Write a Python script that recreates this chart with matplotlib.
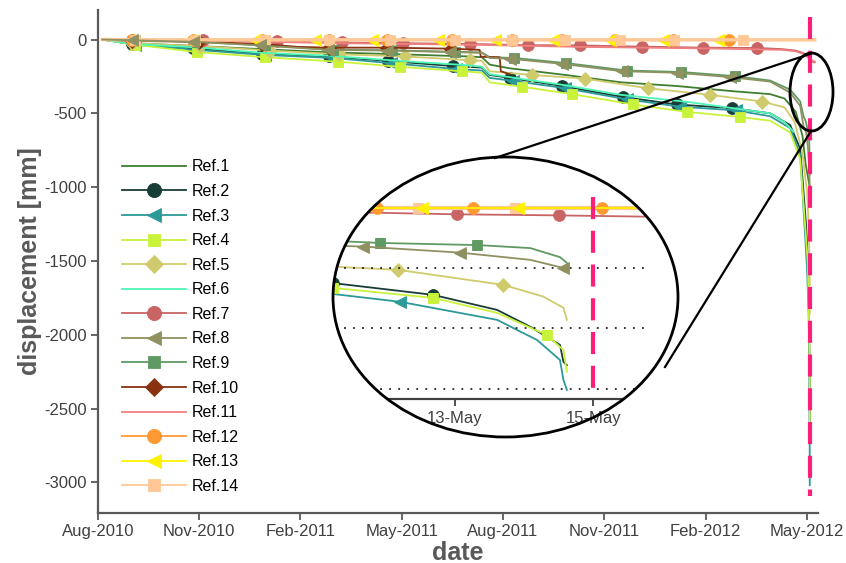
import datetime as dt
import matplotlib
matplotlib.use("Agg")
import matplotlib.pyplot as plt
import matplotlib.dates as mdates
from matplotlib.patches import Ellipse
from matplotlib.lines import Line2D
import numpy as np

plt.rcParams['font.family'] = ['Liberation Sans', 'DejaVu Sans']
plt.rcParams['axes.unicode_minus'] = False

W, H = 846, 563
start = dt.datetime(2010, 8, 14)        # day 0 of the main records
inset_start = dt.datetime(2012, 5, 11)  # day 0 of the zoomed records
alarm_day = 640                         # 15-May-2012
inset_alarm = 4

labels = ["Ref.%d" % i for i in range(1, 15)]
colors = ["#3f7f2f", "#183c37", "#2b9a98", "#c9f23a", "#cfcb6c", "#4ef7b4",
          "#c96464", "#8f9160", "#5e9a62", "#8a3210", "#f08080", "#ff9a33",
          "#fff200", "#ffc896"]
markers = [None, "o", "<", "s", "D", None, "o", "<", "s", "D", None, "o", "<", "s"]

# main records: days since start, displacement [mm], marker indices
ref1_d = [4, 30, 91, 147, 208, 271, 334, 345, 352, 370, 420, 470, 520, 570, 604, 617, 627, 633, 636, 639.6]
ref1_v = [0, -25, -45, -65, -87, -100, -115, -120, -170, -195, -240, -290, -315, -350, -370, -400, -490, -650, -850, -1000]
ref1_m = []

ref2_d = [4, 30.5, 85, 147, 208, 260.5, 319, 345, 352, 370, 417, 472, 520, 570, 604, 622, 631, 636, 637.7, 638.6, 639.1, 639.5, 639.55, 639.6]
ref2_v = [0, -30, -60, -95, -115, -145, -180, -190, -240, -260, -315, -390, -440, -465, -500, -580, -740, -1230, -1445, -1695, -1975, -2275, -2555, -2610]
ref2_m = [1, 2, 3, 4, 5, 6, 9, 10, 11, 12, 13]

ref3_d = [4, 33, 88, 150, 211, 263, 322, 345, 352, 373, 420, 475, 523, 573, 604, 622, 631, 636, 637.2, 638.6, 639.2, 639.5, 639.57, 639.6]
ref3_v = [0, -35, -70, -105, -125, -160, -200, -210, -260, -280, -330, -405, -455, -480, -520, -600, -780, -1400, -1560, -1860, -2195, -2525, -2855, -3020]
ref3_m = [1, 2, 3, 4, 5, 6, 9, 10, 11, 12, 13]

ref4_d = [4, 33, 89, 150, 216, 271, 327, 345, 352, 381, 426, 481, 529, 577, 604, 622, 631, 636, 637.7, 638.6, 639.3, 639.55, 639.6]
ref4_v = [0, -35, -85, -120, -150, -185, -215, -225, -290, -320, -370, -440, -490, -525, -550, -630, -810, -1315, -1495, -1745, -2110, -2360, -2720]
ref4_m = [1, 2, 3, 4, 5, 6, 9, 10, 11, 12, 13]

ref5_d = [4, 30.5, 91.6, 154.5, 217, 276, 334, 345, 352, 390, 437.6, 494, 550, 596.6, 617, 626, 633, 636, 637.2, 638.7, 639.3, 639.55, 639.6]
ref5_v = [0, -25, -45, -75, -100, -115, -140, -145, -215, -240, -265, -330, -375, -420, -460, -560, -765, -965, -1030, -1280, -1475, -1660, -1860]
ref5_m = [1, 2, 3, 4, 5, 6, 9, 10, 11, 12, 13]

ref6_d = [4, 30, 91, 147, 208, 271, 334, 345, 352, 370, 420, 470, 520, 532, 604, 617, 625]
ref6_v = [0, -30, -55, -90, -110, -145, -175, -185, -235, -255, -310, -375, -415, -425, -500, -560, -625]
ref6_m = []

ref7_d = [4, 30.5, 94, 161, 219, 274, 334, 386, 433, 489, 544, 592, 615, 627, 633, 636, 638, 640, 642, 644]
ref7_v = [0, -3, -5, -10, -20, -25, -30, -38, -40, -48, -55, -57, -65, -75, -90, -100, -120, -140, -150, -155]
ref7_m = [1, 2, 3, 4, 5, 6, 7, 8, 9, 10, 11]

ref8_d = [4, 30.5, 85, 145.5, 206.6, 260, 316.6, 345, 352, 370, 417, 471, 520, 568, 604, 622, 631, 634, 636, 636.7, 638.1, 639.1, 639.55, 639.6]
ref8_v = [0, -5, -15, -40, -70, -75, -85, -90, -125, -130, -165, -215, -225, -255, -285, -360, -450, -590, -620, -645, -745, -865, -1000, -1035]
ref8_m = [1, 2, 3, 4, 5, 6, 9, 10, 11, 12, 13]

ref9_d = [4, 33, 89, 150, 211, 264, 321, 345, 352, 374, 421, 475, 524, 572, 604, 622, 631, 634, 636, 636.9, 638.3, 639.1, 639.5, 639.6]
ref9_v = [0, -5, -15, -40, -68, -73, -83, -88, -120, -125, -160, -210, -220, -248, -278, -340, -420, -520, -555, -585, -620, -670, -820, -915]
ref9_m = [1, 2, 3, 4, 5, 6, 9, 10, 11, 12, 13]

ref10_d = [4, 30.5, 91, 147, 180, 208, 260, 317, 343, 344, 361, 362, 370]
ref10_v = [0, -10, -15, -30, -50, -55, -55, -62, -70, -117, -120, -215, -235]
ref10_m = [1, 2, 3, 5, 6, 7]

ref11_d = [4, 94, 219, 334, 433, 544, 615, 627, 633, 636, 640, 644]
ref11_v = [0, -8, -25, -35, -50, -60, -70, -80, -95, -105, -135, -150]
ref11_m = []

ref12_d = [4, 30.5, 85, 147, 208, 259.6, 318, 372, 417, 465, 517, 567, 644]
ref12_v = [0, -4, -4, -4, -4, -4, -4, -4, -4, -4, -4, -4, -4]
ref12_m = [1, 2, 3, 4, 5, 6, 7, 8, 9, 10, 11]

ref13_d = [4, 30.5, 82.6, 141, 195, 246, 305.5, 356.7, 409, 460, 507.6, 557, 644]
ref13_v = [0, 0, 0, 0, 0, 0, 0, 0, 0, 0, 0, 0, 0]
ref13_m = [1, 2, 3, 4, 5, 6, 7, 8, 9, 10, 11]

ref14_d = [4, 33, 87, 150, 208, 262, 321, 372, 419.6, 469, 518, 579.5, 644]
ref14_v = [0, -2, -2, -2, -2, -2, -2, -2, -2, -2, -2, -2, -2]
ref14_m = [1, 2, 3, 4, 5, 6, 7, 8, 9, 10, 11]

# zoomed records: days since inset_start, displacement [mm], marker indices
in2_d = [0, 0.23, 1.68, 2.61, 3.09, 3.52, 3.57, 3.62]
in2_v = [-1230, -1250, -1445, -1695, -1975, -2275, -2555, -2610]
in2_m = [1, 2]
in3_d = [0, 1.2, 2.61, 3.19, 3.52, 3.57, 3.62]
in3_v = [-1400, -1560, -1860, -2195, -2525, -2855, -3020]
in3_m = [1]
in4_d = [0, 0.23, 1.68, 2.61, 3.33, 3.57, 3.62]
in4_v = [-1315, -1330, -1495, -1745, -2110, -2360, -2720]
in4_m = [1, 2, 4]
in5_d = [0, 1.17, 2.70, 3.28, 3.57, 3.62]
in5_v = [-965, -1030, -1280, -1475, -1660, -1860]
in5_m = [1, 2]
in7_d = [0, 2.03, 3.51, 5.3]
in7_v = [-65, -110, -128, -158]
in7_m = [1, 2]
in8_d = [0, 0.67, 2.07, 3.09, 3.57, 3.62]
in8_v = [-620, -645, -745, -865, -1000, -1035]
in8_m = [1, 2, 4]
in9_d = [0, 0.33, 0.91, 2.32, 3.09, 3.52, 3.62]
in9_v = [-545, -555, -585, -620, -670, -820, -915]
in9_m = [2, 3]
in12_d = [0, 0.87, 2.26, 4.13, 5.3]
in12_v = [-10, -10, -10, -10, -10]
in12_m = [1, 2, 3]
in13_d = [0, 1.52, 2.91, 5.3]
in13_v = [0, 0, 0, 0]
in13_m = [1, 2]
in14_d = [0, 1.46, 2.87, 5.3]
in14_v = [0, 0, 0, 0]
in14_m = [1, 2]
inset_levels = [-1000, -2000, -3000]


def fx(x):
    return x / W


def fy(y):
    return 1 - y / H


def draw(ax, base, days, vals, i, mk, lw=1.3):
    x = mdates.date2num(base) + np.array(days)
    kw = dict(color=colors[i], lw=lw, label=labels[i])
    if markers[i] is not None:
        ms = 7.5 if markers[i] in ("s", "D") else 8.5
        kw.update(marker=markers[i], markevery=mk, ms=ms, mfc=colors[i],
                  mec=colors[i], mew=0.6)
    if i == 7:
        kw["zorder"] = 2.2   # olive triangles sit on top of the green squares
    return ax.plot(x, vals, **kw)[0]


def main():
    fig = plt.figure(figsize=(W / 100, H / 100), dpi=100)
    ax = fig.add_axes([fx(97.5), fy(513), fx(818 - 97.5), (513 - 10) / H])

    main_sets = [(ref1_d, ref1_v, ref1_m), (ref2_d, ref2_v, ref2_m), (ref3_d, ref3_v, ref3_m),
                 (ref4_d, ref4_v, ref4_m), (ref5_d, ref5_v, ref5_m), (ref6_d, ref6_v, ref6_m),
                 (ref7_d, ref7_v, ref7_m), (ref8_d, ref8_v, ref8_m), (ref9_d, ref9_v, ref9_m),
                 (ref10_d, ref10_v, ref10_m), (ref11_d, ref11_v, ref11_m), (ref12_d, ref12_v, ref12_m),
                 (ref13_d, ref13_v, ref13_m), (ref14_d, ref14_v, ref14_m)]
    for i, (d, v, m) in enumerate(main_sets):
        lw = 2.5 if i == 13 else 1.3
        draw(ax, start, d, v, i, m, lw=lw)

    t_alarm = mdates.date2num(start) + alarm_day
    ax.plot([t_alarm, t_alarm], [150, -3090], color="#ff1f78", lw=3,
            dashes=(5.3, 2.8), zorder=5)

    t0 = mdates.date2num(start)
    ax.set_xlim(t0 - 0.4, t0 + 647)
    ax.set_ylim(-3208, 200)
    ax.set_xticks([t0 + 91 * k for k in range(8)])
    ax.xaxis.set_major_formatter(mdates.DateFormatter("%b-%Y"))
    ax.set_yticks(np.arange(-3000, 1, 500))
    for s in ["top", "right"]:
        ax.spines[s].set_visible(False)
    for s in ["left", "bottom"]:
        ax.spines[s].set_color("#595959")
        ax.spines[s].set_linewidth(1.6)
    ax.tick_params(colors="#595959", labelcolor="#404040", labelsize=12,
                   width=1.3, length=5, direction="out", pad=3)
    ax.set_xlabel("date", fontsize=18, fontweight="bold", color="#595959", labelpad=1)
    ax.set_ylabel("displacement [mm]", fontsize=18, fontweight="bold", color="#595959", labelpad=1.5)

    leg = ax.legend(loc="upper left", bbox_to_anchor=(fx(116), fy(153)),
                    bbox_transform=fig.transFigure, frameon=False, fontsize=11.5,
                    handlelength=4.0, handletextpad=0.35, labelspacing=0.6, borderaxespad=0,
                    markerscale=1.2)
    for hl in leg.get_lines():
        hl.set_linewidth(1.3)

    # zoom ellipse
    ax_in = fig.add_axes([fx(333), fy(437), fx(345), 280 / H])
    ax_in.patch.set_visible(False)
    disc = Ellipse((0.5, 0.5), 1, 1, transform=ax_in.transAxes, facecolor="white",
                   edgecolor="none", zorder=0)
    ax_in.add_patch(disc)
    ax_in.add_patch(Ellipse((0.5, 0.5), 1, 1, transform=ax_in.transAxes, facecolor="none",
                            edgecolor="black", lw=2, zorder=10, clip_on=False))

    s0 = mdates.date2num(inset_start)
    ax_in.set_xlim(s0 + 0.232, s0 + 5.23)
    ax_in.set_ylim(-3802, 840)

    inset_sets = [(in2_d, in2_v, in2_m, 1), (in3_d, in3_v, in3_m, 2), (in4_d, in4_v, in4_m, 3),
                  (in5_d, in5_v, in5_m, 4), (in7_d, in7_v, in7_m, 6), (in8_d, in8_v, in8_m, 7),
                  (in9_d, in9_v, in9_m, 8), (in14_d, in14_v, in14_m, 13),
                  (in12_d, in12_v, in12_m, 11), (in13_d, in13_v, in13_m, 12)]
    for d, v, m, i in inset_sets:
        lw = 3 if i == 13 else 1.3
        ln = draw(ax_in, inset_start, d, v, i, m, lw=lw)
        ln.set_clip_path(disc)

    for lev in inset_levels:
        ln, = ax_in.plot([s0, s0 + 4.78], [lev, lev], color="#222222", lw=1.3,
                         linestyle=(0, (1, 4)))
        ln.set_clip_path(disc)
    ax_in.plot([s0 + inset_alarm, s0 + inset_alarm], [175, -3000], color="#ff1f78",
               lw=3, dashes=(5.3, 2.8), zorder=5)

    for s in ["top", "right", "left"]:
        ax_in.spines[s].set_visible(False)
    ax_in.spines["bottom"].set_position(("data", -3180))
    ax_in.spines["bottom"].set_bounds(s0, s0 + 4.78)
    ax_in.spines["bottom"].set_color("#404040")
    ax_in.spines["bottom"].set_linewidth(1.6)
    ax_in.spines["bottom"].set_clip_path(disc)
    ax_in.set_yticks([])
    ax_in.set_xticks([s0 + 2, s0 + 4])
    ax_in.xaxis.set_major_formatter(mdates.DateFormatter("%d-%b"))
    ax_in.tick_params(colors="#404040", labelcolor="#404040", labelsize=12,
                      width=1.3, length=5, direction="out", pad=3)

    # small ellipse on the collapse and the connectors
    fig.add_artist(Ellipse((fx(811.5), fy(92)), fx(43), 78 / H, transform=fig.transFigure,
                           facecolor="none", edgecolor="black", lw=2))
    fig.add_artist(Line2D([fx(495), fx(810)], [fy(158), fy(54)], color="black", lw=1.6))
    fig.add_artist(Line2D([fx(665), fx(811)], [fy(367), fy(131)], color="black", lw=1.6))

    fig.savefig("out.png", dpi=100)


main()
